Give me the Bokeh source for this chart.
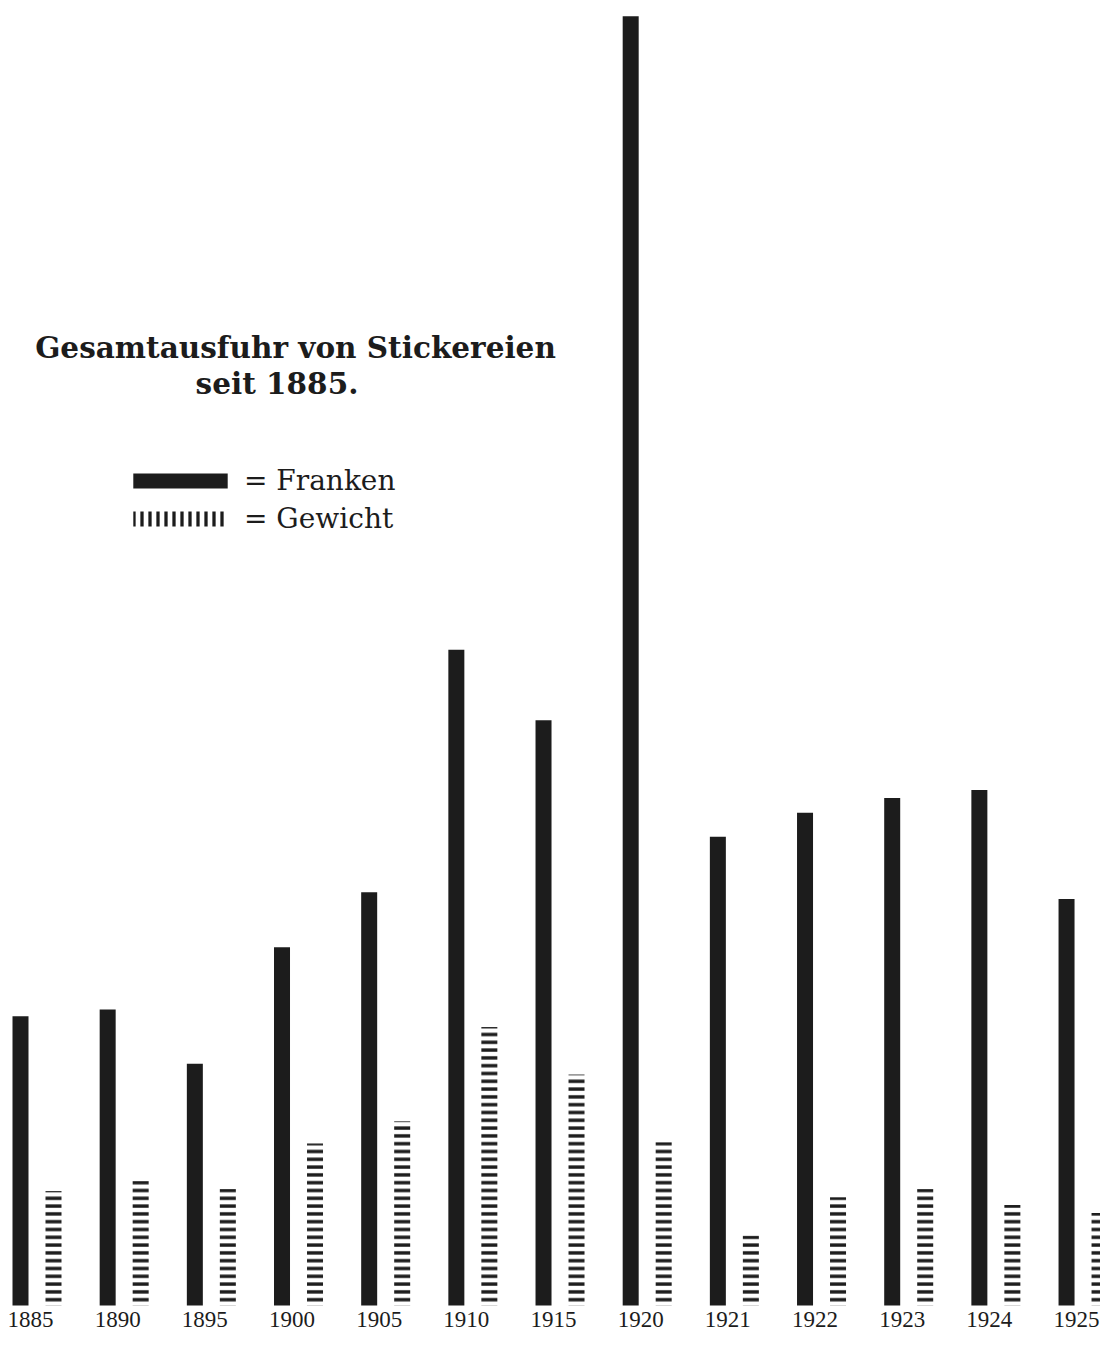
from bokeh.plotting import figure
from bokeh.models import Range1d, Label, Legend, LegendItem, ColumnDataSource
from bokeh.transform import dodge
from bokeh.core.properties import value
from bokeh.embed import file_html
from bokeh.resources import INLINE

# Gesamtausfuhr von Stickereien seit 1885
years = ["1885", "1890", "1895", "1900", "1905", "1910", "1915",
         "1920", "1921", "1922", "1923", "1924", "1925"]
# Franken (Mio. Fr., estimated)
franken = [95.3, 97.6, 79.7, 118.1, 136.2, 216.1, 192.9,
           424.9, 154.5, 162.4, 167.3, 169.9, 134.0]
# Gewicht (same drawing scale, estimated)
gewicht = [37.7, 41.0, 38.4, 53.4, 60.7, 91.8, 76.1,
           53.8, 23.0, 35.7, 38.4, 33.1, 30.5]

title_line1 = "Gesamtausfuhr von Stickereien"
title_line2 = "seit 1885."
legend_labels = ["= Franken", "= Gewicht"]

idx = list(range(len(years)))
src = ColumnDataSource(dict(idx=idx, year=years, franken=franken, gewicht=gewicht))

W, H = 1100, 1332
PX_X = 87.17    # px per year group
X0 = 36.5       # px position of first group centre
PX_Y = 3.034    # px per unit
BASE = 1305     # px position of the baseline


def sx(c):
    return (c - X0) / PX_X


def sy(c):
    return (BASE - c) / PX_Y


p = figure(width=W, height=H, output_backend="svg", toolbar_location=None,
           x_range=Range1d(sx(0), sx(W)), y_range=Range1d(sy(H), sy(0)),
           min_border=0, background_fill_color="white", border_fill_color="white")
p.axis.visible = False
p.grid.visible = False
p.outline_line_color = None

BW = 16 / PX_X
OFF = 16.5 / PX_X
INK = "#1c1c1c"

black = p.vbar(x=dodge("idx", -OFF), top="franken", bottom=0, width=BW, source=src,
               fill_color=INK, line_color=None)
p.vbar(x=dodge("idx", OFF), top="gewicht", bottom=0, width=BW, source=src,
       fill_alpha=0, line_color=None,
       hatch_pattern="horizontal_line", hatch_color=INK, hatch_scale=7.8, hatch_weight=3.4)

p.text(x=dodge("idx", -6.5 / PX_X), y=sy(1326), text="year", source=src,
       text_align="center", text_baseline="bottom",
       text_font=value("Liberation Serif"), text_font_size="23px", text_color=INK)

# legend sample for "Gewicht": zero-height bars carrying a vertical-line hatch
proxy = p.vbar(x="idx", top=0, bottom=0, width=BW, source=src,
               fill_alpha=0, line_color=None,
               hatch_pattern="vertical_line", hatch_color=INK, hatch_scale=8, hatch_weight=3.3)

legend = Legend(items=[LegendItem(label=legend_labels[0], renderers=[black]),
                       LegendItem(label=legend_labels[1], renderers=[proxy])],
                location=(121, 796), orientation="vertical",
                glyph_width=118, glyph_height=19, label_height=35, spacing=3,
                label_standoff=5, padding=0, margin=0,
                border_line_color=None, background_fill_alpha=0,
                label_text_font="DejaVu Serif", label_text_font_size="28px",
                label_text_color=INK, label_text_baseline="middle")
p.add_layout(legend)

p.add_layout(Label(x=sx(295), y=sy(347), text=title_line1,
                   text_align="center", text_baseline="alphabetic",
                   text_font="DejaVu Serif", text_font_style="bold",
                   text_font_size="29.5px", text_color=INK))
p.add_layout(Label(x=sx(276.5), y=sy(383), text=title_line2,
                   text_align="center", text_baseline="alphabetic",
                   text_font="DejaVu Serif", text_font_style="bold",
                   text_font_size="29.5px", text_color=INK))

open("out.html", "w").write(file_html(p, INLINE))
